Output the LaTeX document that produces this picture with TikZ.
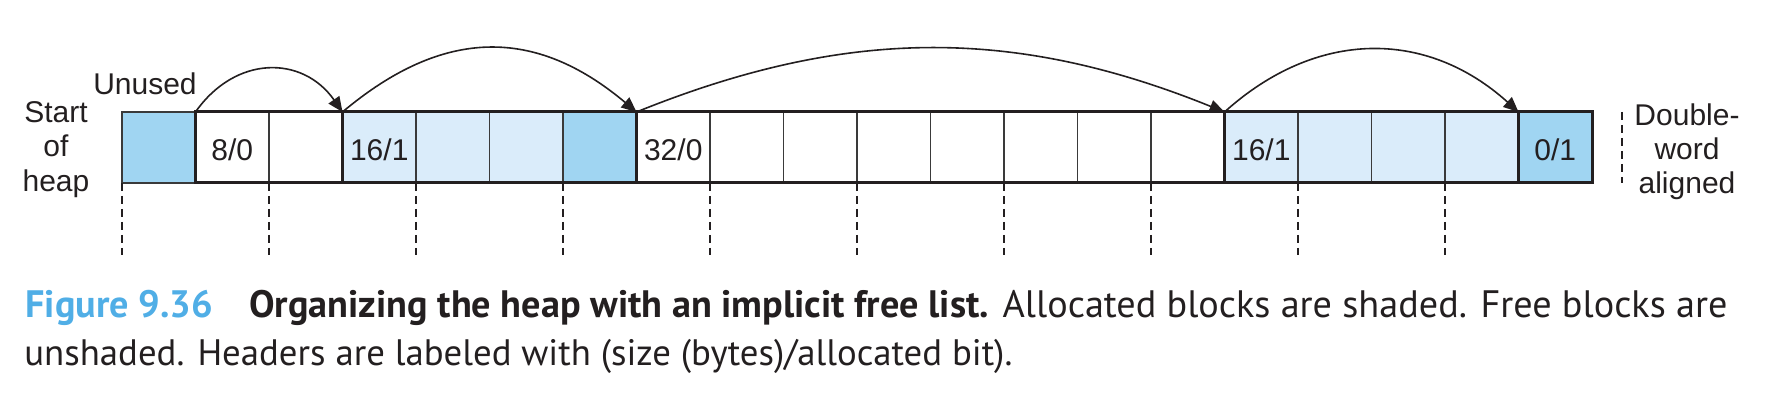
\documentclass[tikz,border=0pt]{standalone}
\usepackage{fontspec}
\usepackage{graphicx}
\setmainfont{Liberation Sans}
\newfontfamily\capfont{PT Sans}
\usetikzlibrary{arrows.meta}
\definecolor{ink}{HTML}{231F20}
\definecolor{darkcell}{HTML}{A0D5F2}
\definecolor{lightcell}{HTML}{DAECFA}
\definecolor{figblue}{HTML}{50AEE6}
\definecolor{thingray}{HTML}{3A3A3A}
\begin{document}
\begin{tikzpicture}[x=0.5pt,y=-0.5pt,
  cell/.style={draw=thingray, line width=0.8pt, minimum width=36.75pt, minimum height=35.5pt,
    inner sep=0pt, outer sep=0pt, anchor=north west, text height=15.5pt, text depth=2pt,
    font=\fontsize{15}{17}\selectfont, text=ink},
  darkc/.style={cell, fill=darkcell},
  lightc/.style={cell, fill=lightcell},
  whitec/.style={cell, fill=white},
  blockline/.style={draw=ink, line width=1.5pt},
  link/.style={draw=ink, line width=0.8pt, -{Triangle[length=7.5pt,width=6.5pt]}},
  dashline/.style={draw=ink, line width=0.75pt, dash pattern=on 4pt off 2.5pt},
  lbl/.style={font=\fontsize{15}{17}\selectfont, text=ink, inner sep=0pt, anchor=base},
  captext/.style={font=\capfont\fontsize{18.75}{23}\selectfont, text=ink, inner sep=0pt, anchor=base west}
]
\useasboundingbox (0,0) rectangle (1786,400);

% cells
\node[darkc]  (c0)  at (122,112) {};
\node[whitec] (c1)  at (195.5,112) {8/0};
\node[whitec] (c2)  at (269,112) {};
\node[lightc] (c3)  at (342.5,112) {16/1};
\node[lightc] (c4)  at (416,112) {};
\node[lightc] (c5)  at (489.5,112) {};
\node[darkc]  (c6)  at (563,112) {};
\node[whitec] (c7)  at (636.5,112) {32/0};
\node[whitec] (c8)  at (710,112) {};
\node[whitec] (c9)  at (783.5,112) {};
\node[whitec] (c10) at (857,112) {};
\node[whitec] (c11) at (930.5,112) {};
\node[whitec] (c12) at (1004,112) {};
\node[whitec] (c13) at (1077.5,112) {};
\node[whitec] (c14) at (1151,112) {};
\node[lightc] (c15) at (1224.5,112) {16/1};
\node[lightc] (c16) at (1298,112) {};
\node[lightc] (c17) at (1371.5,112) {};
\node[lightc] (c18) at (1445,112) {};
\node[darkc]  (c19) at (1518.5,112) {0/1};

% block outlines
\draw[blockline] (c1.north west) rectangle (c2.south east);
\draw[blockline] (c3.north west) rectangle (c6.south east);
\draw[blockline] (c7.north west) rectangle (c14.south east);
\draw[blockline] (c15.north west) rectangle (c18.south east);
\draw[blockline] (c19.north west) rectangle (c19.south east);

% links between headers
\draw[link] (c1.north west) .. controls +(40,-57) and +(-40,-57) .. (c3.north west);
\draw[link] (c3.north west) .. controls +(101,-85) and +(-101,-85) .. (c7.north west);
\draw[link] (c7.north west) .. controls +(210,-85) and +(-210,-85) .. (c15.north west);
\draw[link] (c15.north west) .. controls +(92,-83) and +(-92,-83) .. (c19.north west);

% double-word boundaries
\foreach \i in {0,2,4,6,8,10,12,14,16,18} {
  \draw[dashline] (c\i.south west) -- ++(0,72);
}
\coordinate (dwtop) at (1622,112);
\coordinate (dwbot) at (1622,183);
\draw[dashline] (dwtop) -- (dwbot);

% labels
\node[lbl] (st1) at (56,123) {Start};
\node[lbl] (st2) at (56,157) {of};
\node[lbl] (st3) at (56,192) {heap};
\node[lbl] (unused) at (145,95) {Unused};
\node[lbl] (dw1) at (1687,126) {Double-};
\node[lbl] (dw2) at (1687,160) {word};
\node[lbl] (dw3) at (1687,194) {aligned};

% caption
\node[captext] (cap1) at (25,318) {\resizebox{851pt}{!}{\textcolor{figblue}{\bfseries Figure 9.36}\hspace{0.95em}{\bfseries Organizing the heap with an implicit free list.} Allocated blocks are shaded. Free blocks are}};
\node[captext] (cap2) at (24,365) {\resizebox{494pt}{!}{unshaded. Headers are labeled with (size (bytes)/allocated bit).}};
\end{tikzpicture}
\end{document}
